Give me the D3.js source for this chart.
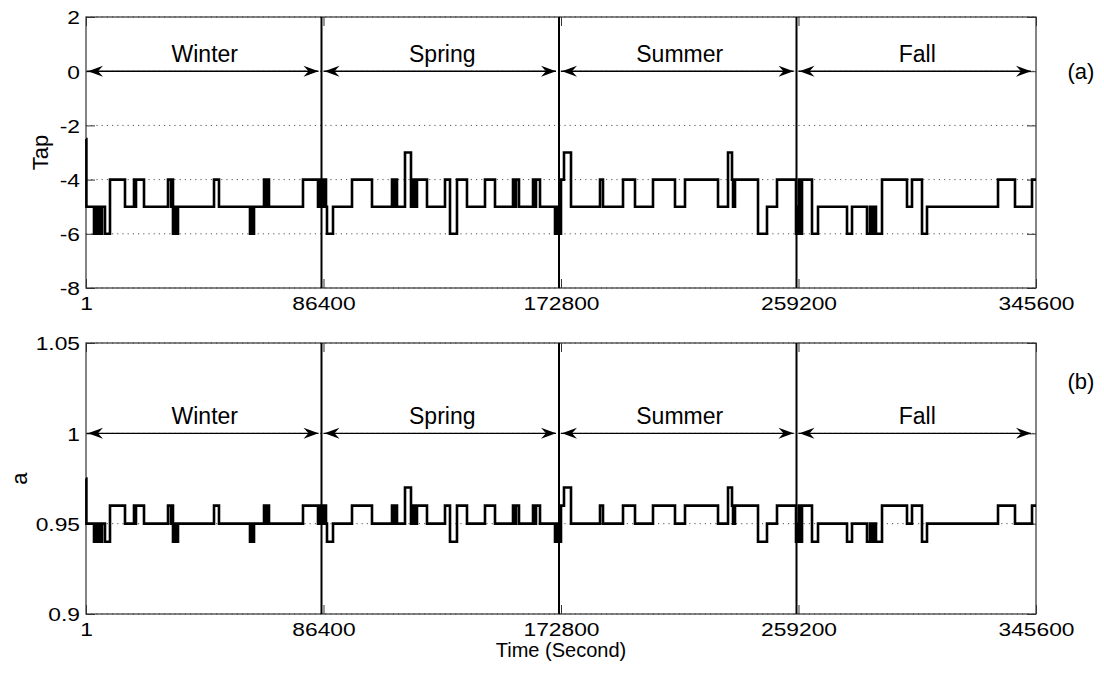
<!DOCTYPE html>
<html>
<head>
<meta charset="utf-8">
<script src="https://cdn.jsdelivr.net/npm/d3@7"></script>
<style>
  html, body { margin: 0; padding: 0; background: #fff; }
  svg { display: block; font-family: "Liberation Sans", Arial, sans-serif; }
</style>
</head>
<body>
<svg id="chart" width="1104" height="675"></svg>
<script>
// Time stamps (s) where the tap position changes; each value holds until the next stamp
const stepTimes = [
  1, 150, 2910, 3640, 4000, 4730, 5460, 5820, 6910, 8730,
  14190, 17460, 17830, 18190, 21100, 29830, 30930, 31290, 31650, 32380,
  32740, 33470, 46570, 48380, 59660, 60030, 60390, 61120, 64760, 65480,
  65850, 66570, 78940, 84400, 84770, 85130, 85490, 85860, 86220, 86580,
  86950, 87310, 87670, 89860, 96770, 104040, 111320, 112050, 112410, 113140,
  116050, 118230, 118600, 118960, 119320, 120050, 120410, 124050, 130600, 132420,
  134960, 138600, 145150, 148790, 155340, 156070, 156430, 157520, 162620, 163340,
  163710, 165160, 170620, 170980, 171350, 171710, 172070, 172800, 173890, 176440,
  186990, 188080, 195360, 199720, 206270, 214270, 217910, 229920, 233560, 235010,
  235380, 236100, 244470, 247740, 251380, 258290, 258650, 259020, 259380, 259750,
  260480, 264110, 266300, 276850, 278670, 284120, 285210, 285940, 286670, 287390,
  289580, 298670, 300490, 304130, 305950, 331780, 337960, 344150, 345600
];

// Transformer tap position
const tapValues = [
  -2.5, -5, -6, -5, -6, -5, -6, -5, -6, -4,
  -5, -4, -5, -4, -5, -4, -5, -4, -6, -5,
  -6, -5, -4, -5, -6, -5, -6, -5, -4, -5,
  -4, -5, -4, -5, -4, -5, -4, -5, -4, -5,
  -4, -5, -6, -5, -4, -5, -4, -5, -4, -5,
  -3, -5, -4, -5, -4, -5, -4, -5, -4, -6,
  -4, -5, -4, -5, -4, -5, -4, -5, -4, -5,
  -4, -5, -6, -5, -6, -5, -6, -4, -3, -5,
  -4, -5, -4, -5, -4, -5, -4, -5, -3, -4,
  -5, -4, -6, -5, -4, -6, -5, -6, -4, -6,
  -4, -6, -5, -6, -5, -6, -5, -6, -5, -6,
  -4, -5, -4, -6, -5, -4, -5, -4, -4
];

// Turns ratio a at the same time stamps
const ratioValues = [
  0.975, 0.95, 0.94, 0.95, 0.94, 0.95, 0.94, 0.95, 0.94, 0.96,
  0.95, 0.96, 0.95, 0.96, 0.95, 0.96, 0.95, 0.96, 0.94, 0.95,
  0.94, 0.95, 0.96, 0.95, 0.94, 0.95, 0.94, 0.95, 0.96, 0.95,
  0.96, 0.95, 0.96, 0.95, 0.96, 0.95, 0.96, 0.95, 0.96, 0.95,
  0.96, 0.95, 0.94, 0.95, 0.96, 0.95, 0.96, 0.95, 0.96, 0.95,
  0.97, 0.95, 0.96, 0.95, 0.96, 0.95, 0.96, 0.95, 0.96, 0.94,
  0.96, 0.95, 0.96, 0.95, 0.96, 0.95, 0.96, 0.95, 0.96, 0.95,
  0.96, 0.95, 0.94, 0.95, 0.94, 0.95, 0.94, 0.96, 0.97, 0.95,
  0.96, 0.95, 0.96, 0.95, 0.96, 0.95, 0.96, 0.95, 0.97, 0.96,
  0.95, 0.96, 0.94, 0.95, 0.96, 0.94, 0.95, 0.94, 0.96, 0.94,
  0.96, 0.94, 0.95, 0.94, 0.95, 0.94, 0.95, 0.94, 0.95, 0.94,
  0.96, 0.95, 0.96, 0.94, 0.95, 0.96, 0.95, 0.96, 0.96
];

const seasons = ["Winter", "Spring", "Summer", "Fall"];
const seasonBounds = [1, 86400, 172800, 259200, 345600];
const xTickValues = [1, 86400, 172800, 259200, 345600];
const tapTicks = [2, 0, -2, -4, -6, -8];
const ratioTicks = [0.9, 0.95, 1, 1.05];

const svg = d3.select("#chart");
const left = 86, right = 1036;
const tickLen = 9;
const labelStretch = 1.2;   // tick labels use a widened face

const x = d3.scaleLinear().domain([1, 345600]).range([left, right]);

const panels = [
  { top: 17, bottom: 288, domain: [-8, 2], ticks: tapTicks, values: tapValues,
    arrowAt: 0, title: "Tap", titleX: 40, tag: "(a)", tagY: 79 },
  { top: 343, bottom: 614, domain: [0.9, 1.05], ticks: ratioTicks, values: ratioValues,
    arrowAt: 1, title: "a", titleX: 19, tag: "(b)", tagY: 389 }
];

panels.forEach(p => {
  const y = d3.scaleLinear().domain(p.domain).range([p.bottom, p.top]);
  const g = svg.append("g");

  // dotted grid
  g.append("g").selectAll("line").data(p.ticks).join("line")
    .attr("x1", left).attr("x2", right)
    .attr("y1", d => y(d)).attr("y2", d => y(d))
    .attr("stroke", "#555").attr("stroke-width", 1)
    .attr("stroke-dasharray", "1.2,4");

  // axes with inward ticks on all four sides
  const gl = g.append("g").attr("transform", `translate(${left},0)`)
    .call(d3.axisLeft(y).tickValues(p.ticks).tickSize(-tickLen).tickFormat(d => String(d)));
  const gr = g.append("g").attr("transform", `translate(${right},0)`)
    .call(d3.axisRight(y).tickValues(p.ticks).tickSize(-tickLen).tickFormat(""));
  const gb = g.append("g").attr("transform", `translate(0,${p.bottom})`)
    .call(d3.axisBottom(x).tickValues(xTickValues).tickSize(-tickLen).tickFormat(d => String(d)));
  const gt = g.append("g").attr("transform", `translate(0,${p.top})`)
    .call(d3.axisTop(x).tickValues(xTickValues).tickSize(-tickLen).tickFormat(""));

  [gl, gr, gb, gt].forEach(a => {
    a.select(".domain").remove();
    a.selectAll(".tick line").attr("stroke", "#333");
    a.selectAll(".tick text").attr("fill", "#000")
      .style("font-family", "'Liberation Sans', Arial, sans-serif")
      .style("font-size", "19px");
  });
  gl.selectAll(".tick text")
    .attr("x", -6 / labelStretch).attr("dy", "0.36em")
    .attr("transform", `scale(${labelStretch},1)`);
  gb.selectAll(".tick text")
    .attr("y", 22).attr("dy", "0")
    .attr("transform", `scale(${labelStretch},1)`);

  // frame
  g.append("rect").attr("x", left).attr("y", p.top)
    .attr("width", right - left).attr("height", p.bottom - p.top)
    .attr("fill", "none").attr("stroke", "#333").attr("stroke-width", 1.2);

  // season boundaries
  g.append("g").selectAll("line").data(seasonBounds.slice(1, 4)).join("line")
    .attr("x1", d => x(d) - 2).attr("x2", d => x(d) - 2)
    .attr("y1", p.top).attr("y2", p.bottom)
    .attr("stroke", "#000").attr("stroke-width", 2);

  // double-headed season arrows and labels
  const ay = y(p.arrowAt);
  const ag = g.append("g");
  seasons.forEach((s, i) => {
    const x0 = x(seasonBounds[i]) + (i === 0 ? 1 : 0);
    const x1 = x(seasonBounds[i + 1]) - 5;
    ag.append("line").attr("x1", x0).attr("x2", x1).attr("y1", ay).attr("y2", ay)
      .attr("stroke", "#000").attr("stroke-width", 1.4);
    const head = (tip, dir) =>
      `M${tip},${ay} L${tip + dir * 15},${ay - 5.5} L${tip + dir * 10},${ay} L${tip + dir * 15},${ay + 5.5} Z`;
    ag.append("path").attr("d", head(x0 + 1, 1)).attr("fill", "#000");
    ag.append("path").attr("d", head(x1, -1)).attr("fill", "#000");
    ag.append("text")
      .attr("x", (x(seasonBounds[i]) + x(seasonBounds[i + 1])) / 2)
      .attr("y", ay - 9)
      .attr("text-anchor", "middle")
      .style("font-size", "23px")
      .text(s);
  });

  // step series
  const pts = stepTimes.map((t, i) => [t, p.values[i]]);
  const line = d3.line().x(d => x(d[0])).y(d => y(d[1])).curve(d3.curveStepAfter);
  g.append("path").datum(pts).attr("d", line)
    .attr("fill", "none").attr("stroke", "#000").attr("stroke-width", 2.6)
    .attr("stroke-linejoin", "miter");

  // axis title
  g.append("text")
    .attr("transform", `translate(${p.titleX},${(p.top + p.bottom) / 2}) rotate(-90)`)
    .attr("text-anchor", "middle").attr("dy", "0.35em")
    .style("font-size", "22px")
    .text(p.title);

  // panel tag
  g.append("text").attr("x", 1081).attr("y", p.tagY)
    .attr("text-anchor", "middle").style("font-size", "22px").text(p.tag);
});

svg.append("text").attr("x", 561).attr("y", 657)
  .attr("text-anchor", "middle").style("font-size", "20px").text("Time (Second)");
</script>
</body>
</html>
